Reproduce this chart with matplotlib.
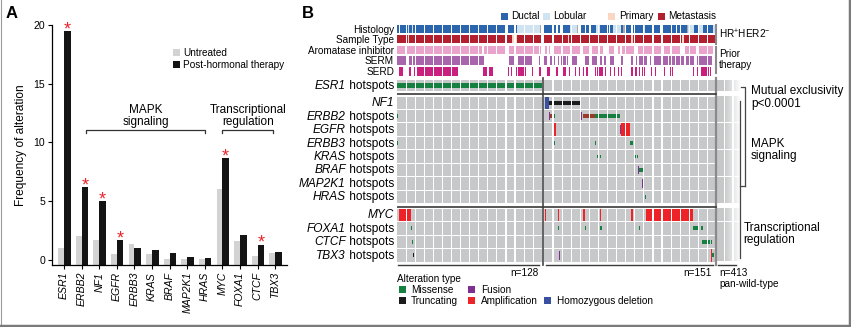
import matplotlib
matplotlib.use("Agg")
import matplotlib.pyplot as plt
from matplotlib.patches import Rectangle
import numpy as np

plt.rcParams['font.family'] = ['Liberation Sans', 'DejaVu Sans']
plt.rcParams['mathtext.fontset'] = 'custom'
plt.rcParams['mathtext.rm'] = 'Liberation Sans'
plt.rcParams['mathtext.it'] = 'Liberation Sans:italic'

# ---------------- Panel A data ----------------
genes = ["ESR1", "ERBB2", "NF1", "EGFR", "ERBB3", "KRAS", "BRAF", "MAP2K1",
         "HRAS", "MYC", "FOXA1", "CTCF", "TBX3"]
untreated = [1.0, 2.0, 1.7, 0.5, 1.4, 0.5, 0.1, 0.1, 0.1, 6.0, 1.6, 0.35, 0.6]
post_hormonal = [19.5, 6.2, 5.0, 1.7, 1.0, 0.85, 0.6, 0.25, 0.2, 8.7, 2.1, 1.3, 0.7]
significant = ["ESR1", "ERBB2", "NF1", "EGFR", "MYC", "CTCF"]
groups_A = [("MAPK\nsignaling", "ERBB2", "HRAS"),
            ("Transcriptional\nregulation", "MYC", "TBX3")]

# ---------------- Panel B data ----------------
n_esr1 = 128
n_other = 151
n_wildtype = 413

histology_runs = [
    (0, 2, 'D'), (3, 10, 'D'), (10, 11, 'L'), (11, 13, 'D'), (13, 14, 'L'),
    (14, 97, 'D'), (98, 106, 'D'), (106, 126, 'L'), (126, 127, 'U'),
    (128, 136, 'D'), (137, 139, 'D'), (140, 142, 'D'), (144, 151, 'D'),
    (151, 157, 'L'), (157, 158, 'U'), (160, 164, 'D'), (165, 168, 'D'),
    (169, 174, 'D'), (174, 177, 'L'), (177, 181, 'D'), (181, 185, 'D'),
    (186, 189, 'D'), (189, 196, 'L'), (196, 198, 'D'), (198, 199, 'U'),
    (199, 205, 'D'), (206, 216, 'D'), (216, 217, 'L'), (217, 230, 'D'),
    (231, 244, 'D'), (245, 254, 'D'), (254, 255, 'U'), (255, 260, 'L'),
    (260, 265, 'D'), (265, 268, 'L'), (268, 277, 'D'), (277, 279, 'L')]

primary_runs = [(10, 11), (101, 106), (149, 150), (205, 206), (250, 251)]

aromatase_runs = [
    (0, 7), (9, 75), (77, 97), (99, 125), (126, 127),
    (129, 131), (132, 133), (137, 143), (145, 151), (152, 160), (162, 168),
    (170, 176), (177, 180), (185, 190), (193, 195), (197, 199), (200, 207),
    (211, 224), (225, 233), (234, 239), (241, 249), (252, 262), (265, 277)]

serm_runs = [
    (0, 8), (11, 13), (14, 77), (99, 105), (107, 119), (125, 126),
    (128, 131), (133, 135), (136, 138), (140, 141), (143, 144), (145, 147),
    (148, 149), (152, 157), (164, 168), (170, 175), (177, 179), (181, 183),
    (186, 190), (196, 198), (205, 206), (207, 208), (209, 210), (212, 219),
    (221, 222), (225, 237), (238, 240), (241, 243), (244, 251), (253, 260),
    (263, 276)]

serd_runs = [
    (2, 5), (8, 9), (11, 12), (15, 17), (18, 54), (76, 80), (81, 85),
    (98, 99), (100, 101), (104, 106), (107, 114), (119, 120), (125, 127),
    (131, 133), (139, 140), (145, 147), (150, 151), (155, 156), (159, 160),
    (162, 163), (165, 167), (173, 174), (175, 180), (182, 183), (186, 187),
    (190, 191), (193, 194), (196, 197), (205, 206), (207, 210), (212, 213),
    (214, 217), (222, 223), (226, 227), (234, 235), (239, 242), (256, 257),
    (259, 260), (263, 264), (266, 273), (274, 275)]

esr1_alts = [(0, 128, 'mis')]
mapk_genes = ["NF1", "ERBB2", "EGFR", "ERBB3", "KRAS", "BRAF", "MAP2K1", "HRAS"]
tf_genes = ["MYC", "FOXA1", "CTCF", "TBX3"]
nf1_alts = [(129, 132, 'del'), (132, 160, 'trunc')]
erbb2_alts = [(0, 1, 'mis'), (132, 133, 'fus'), (133, 136, 'ampmis'), (136, 138, 'mis'),
              (161, 162, 'fus'), (162, 173, 'ampmis'), (173, 195, 'mis')]
egfr_alts = [(137, 139, 'amp'), (195, 196, 'fus'), (196, 204, 'amp')]
erbb3_alts = [(0, 1, 'mis'), (137, 138, 'mis'), (173, 174, 'mis'), (204, 206, 'mis')]
kras_alts = [(175, 176, 'mis'), (177, 178, 'mis'), (207, 209, 'mis'), (210, 211, 'mis')]
braf_alts = [(211, 212, 'fus'), (212, 215, 'mis')]
map2k1_alts = [(214, 215, 'fus'), (215, 216, 'mis')]
hras_alts = [(217, 218, 'mis')]
myc_alts = [(2, 12, 'amp'), (129, 130, 'amp'), (140, 141, 'amp'), (162, 164, 'amp'),
            (177, 178, 'amp'), (205, 206, 'amp'), (215, 216, 'amp'), (218, 259, 'amp')]
foxa1_alts = [(12, 13, 'mis'), (140, 141, 'mis'), (164, 165, 'mis'), (177, 179, 'mis'),
              (207, 208, 'mis'), (212, 213, 'mis'), (259, 265, 'mis'), (266, 268, 'mis')]
ctcf_alts = [(13, 14, 'mis'), (267, 274, 'mis'), (275, 276, 'mis')]
tbx3_alts = [(14, 15, 'trunc'), (141, 142, 'fus'), (275, 276, 'amp'), (276, 278, 'mis')]

gene_alts = {"NF1": nf1_alts, "ERBB2": erbb2_alts, "EGFR": egfr_alts, "ERBB3": erbb3_alts,
             "KRAS": kras_alts, "BRAF": braf_alts, "MAP2K1": map2k1_alts, "HRAS": hras_alts,
             "MYC": myc_alts, "FOXA1": foxa1_alts, "CTCF": ctcf_alts, "TBX3": tbx3_alts}
no_suffix = ["NF1", "MYC"]

# ---------------- styles ----------------
C_GRAY = '#c7c8c9'
hist_colors = {'D': '#2b65ae', 'L': '#cfe4f0', 'U': '#a8a8a8'}
C_MET, C_PRI = '#b2202f', '#fbd6c2'
C_AI, C_SERM, C_SERD = '#eaa4cb', '#a965ab', '#c91f7e'
alt_colors = {'mis': '#15803f', 'trunc': '#1b1b1b', 'fus': '#7e2f91',
              'amp': '#ee2328', 'del': '#3a50a0', 'ampmis': '#9a3b2a'}
bracket_offsets = {"ERBB2": 0.25, "HRAS": 0.0, "MYC": 0.0, "TBX3": -0.1}

W, H = 851, 327
fig = plt.figure(figsize=(W / 100, H / 100), dpi=100)
renderer = fig.canvas.get_renderer()


def fx(x):
    return x / W


def fy(y):
    return 1 - y / H


def ftext(x, y, s, **kw):
    kw.setdefault('fontsize', 7.2)
    kw.setdefault('va', 'center')
    fig.text(fx(x), fy(y), s, **kw)


def fsquare(x, y, color, size=7):
    fig.add_artist(Rectangle((fx(x), fy(y + size)), size / W, size / H,
                             transform=fig.transFigure, color=color, lw=0))


# ======================= Panel A =======================
axA = fig.add_axes([fx(52), fy(265), fx(287) - fx(52), fy(25) - fy(265)])
xA = np.arange(len(genes))
y0 = -0.43
axA.bar(xA, np.array(untreated) - y0, bottom=y0, width=-0.33, align='edge',
        color='#d3d3d3', lw=0)
axA.bar(xA, np.array(post_hormonal) - y0, bottom=y0, width=0.38, align='edge',
        color='#141414', lw=0)
axA.set_xlim(-0.68, 12.67)
axA.set_ylim(y0, 20)
axA.set_yticks([0, 5, 10, 15, 20])
axA.set_xticks(xA)
axA.set_xticklabels(genes, rotation=90, fontstyle='italic', fontsize=7.6)
axA.tick_params(axis='y', labelsize=7.6, length=3, width=0.8, pad=2)
axA.tick_params(axis='x', length=3, width=0.8, pad=2)
for s in ['top', 'right']:
    axA.spines[s].set_visible(False)
for s in ['left', 'bottom']:
    axA.spines[s].set_linewidth(0.9)
axA.set_ylabel('Frequency of alteration', fontsize=8.6)
axA.yaxis.set_label_coords(-0.106, 0.5)
for g in significant:
    i = genes.index(g)
    axA.text(i + 0.19, post_hormonal[i] - 0.28, '*', color='#e8262b', fontsize=13,
             ha='center', va='baseline')
for label, g0, g1 in groups_A:
    a = genes.index(g0) + bracket_offsets[g0]
    b = genes.index(g1) + bracket_offsets[g1]
    axA.plot([a, a, b, b], [10.78, 11.06, 11.06, 10.78], color='#333333', lw=0.9,
             clip_on=False)
    axA.text((a + b) / 2, 12.27, label, ha='center', va='center',
             fontsize=8.5, linespacing=1.0)

fig.text(fx(6), fy(13), 'A', fontsize=12, fontweight='bold', va='center')
fsquare(173, 49, '#d3d3d3')
fsquare(173, 61, '#141414')
ftext(183, 52.5, 'Untreated')
ftext(183, 64.5, 'Post-hormonal therapy')

# ======================= Panel B =======================
SPX = 1.135  # pixels per sample
XMAX = 302.5
axB = fig.add_axes([fx(397), 0, fx(397 + XMAX * SPX) - fx(397), 1])
axB.set_xlim(0, XMAX)
axB.set_ylim(H, 0)
axB.axis('off')


def pos(i):
    return i if i < n_esr1 else i + 1.5


def rect(s, e, yc, h, color, z=2):
    axB.add_patch(Rectangle((pos(s), yc - h / 2), e - s, h, color=color, lw=0, zorder=z))


# Row layout (pixel y centres)
track_y = {'Histology': 28.9, 'Sample Type': 39.2, 'Aromatase inhibitor': 50.1,
           'SERM': 60.7, 'SERD': 71.5}
TRACK_H = 8.6
esr1_y, esr1_h = 85.3, 10.7
mapk_y = [102.7 + 13.45 * k for k in range(len(mapk_genes))]
tf_y = [215.0 + 13.45 * k for k in range(len(tf_genes))]
GENE_H = 12.3
LABEL_X = -2.6

# top tracks
for s, e, c in histology_runs:
    rect(s, e, track_y['Histology'], TRACK_H, hist_colors[c])
total = n_esr1 + n_other
st = np.array(['M'] * total)
for s, e in primary_runs:
    st[s:e] = 'P'
for i in range(total):
    if i == n_esr1 - 1:
        continue
    rect(i, i + 1, track_y['Sample Type'], TRACK_H, C_MET if st[i] == 'M' else C_PRI)
for s, e in aromatase_runs:
    rect(s, e, track_y['Aromatase inhibitor'], TRACK_H, C_AI)
for s, e in serm_runs:
    rect(s, e, track_y['SERM'], TRACK_H, C_SERM)
for s, e in serd_runs:
    rect(s, e, track_y['SERD'], TRACK_H, C_SERD)

# gene rows
all_rows = [("ESR1", esr1_y, esr1_h, esr1_alts)]
all_rows += [(g, yy, GENE_H, gene_alts[g]) for g, yy in zip(mapk_genes, mapk_y)]
all_rows += [(g, yy, GENE_H, gene_alts[g]) for g, yy in zip(tf_genes, tf_y)]

grad = np.ones((1, 200, 4))
grad[..., :3] = np.array(matplotlib.colors.to_rgb(C_GRAY))
alpha = np.clip(1 - (np.linspace(0, 1, 200) - 0.3) / 0.7, 0, 1)
alpha[:60] = 1
grad[0, :, 3] = alpha

for g, yc, h, alts in all_rows:
    axB.add_patch(Rectangle((0, yc - h / 2), n_esr1, h, color=C_GRAY, lw=0, zorder=1))
    axB.add_patch(Rectangle((n_esr1 + 1.5, yc - h / 2), n_other, h, color=C_GRAY, lw=0, zorder=1))
    axB.imshow(grad, extent=(282, 302.5, yc + h / 2, yc - h / 2), aspect='auto',
               interpolation='bilinear', zorder=1)
    for s, e, t in alts:
        if t in ('amp', 'del'):
            hh = h
        elif t == 'fus':
            hh = h * 0.68
        else:
            hh = h * (0.46 if g == "ESR1" else 0.32)
        if t == 'fus':
            axB.add_patch(Rectangle((pos(s), yc - hh / 2), 0.9, hh,
                                    color=alt_colors[t], lw=0, zorder=3))
        else:
            rect(s, e, yc, hh, alt_colors[t])
    # row label: italic gene name + regular suffix
    xg = LABEL_X
    if g not in no_suffix:
        t2 = axB.text(LABEL_X, yc + 0.5, " hotspots", ha='right', va='center',
                      fontsize=8.6, clip_on=False)
        bb = t2.get_window_extent(renderer)
        xg = axB.transData.inverted().transform((bb.x0, 0))[0]
    axB.text(xg, yc + 0.5, g, ha='right', va='center', fontsize=8.6,
             fontstyle='italic', clip_on=False)

axB.set_xlim(0, XMAX)
axB.set_ylim(H, 0)

# white block separators every 8 samples
block_edges = [8 * k for k in range(1, 16)] + [n_esr1 + 1.5 + 8 * k for k in range(1, 19)]
for b in block_edges:
    axB.add_patch(Rectangle((b - 0.5, 23), 1.0, 242, color='white', lw=0, zorder=4))
for b in [288.5, 296.0]:
    axB.add_patch(Rectangle((b - 0.5, 79), 1.0, 186, color='white', lw=0, zorder=4))

# track labels
for name, yc in track_y.items():
    axB.text(LABEL_X, yc + 0.8, name, ha='right', va='center', fontsize=7.2, clip_on=False)

# separator lines
LC = '#3a3a3a'
axB.plot([128.75, 128.75], [78.3, 265], color='#555555', lw=1.3, zorder=6)
axB.plot([280.9, 280.9], [78.3, 265], color='#8a8a8a', lw=1.6, zorder=6)
axB.plot([-0.3, 280.9], [94.3, 94.3], color=LC, lw=1.2, zorder=6)
axB.plot([-0.3, 280.9], [206.6, 206.6], color=LC, lw=1.2, zorder=6)
axB.plot([0.5, 125.5], [265.3, 265.3], color=LC, lw=1.0, zorder=6, clip_on=False)
axB.plot([131, 278], [265.3, 265.3], color=LC, lw=1.0, zorder=6, clip_on=False)
axB.plot([283, 299], [265.3, 265.3], color=LC, lw=1.0, zorder=6, clip_on=False)

# right annotations
fig.add_artist(plt.Line2D([fx(715.5)] * 2, [fy(25), fy(43.5)], color='#8a8a8a', lw=1.5))
fig.add_artist(plt.Line2D([fx(715.5)] * 2, [fy(47), fy(73)], color='#8a8a8a', lw=1.5))
ftext(719, 34.5, r'HR$^{+}$HER2$^{-}$', fontsize=7.2)
ftext(719, 54, 'Prior', fontsize=7.2)
ftext(719, 65.5, 'therapy', fontsize=7.2)

BC = '#444444'
fig.add_artist(plt.Line2D([fx(741), fx(745), fx(745)], [fy(86.5), fy(86.5), fy(186)], color=BC, lw=0.9))
fig.add_artist(plt.Line2D([fx(740), fx(740)], [fy(101.5), fy(258)], color=BC, lw=0.9))
fig.add_artist(plt.Line2D([fx(740), fx(745)], [fy(185.5), fy(185.5)], color=BC, lw=0.9))
ftext(751, 91, 'Mutual exclusivity', fontsize=8.5)
ftext(751, 103.5, 'p<0.0001', fontsize=8.5)
ftext(751, 143.5, 'MAPK', fontsize=8.5)
ftext(751, 156, 'signaling', fontsize=8.5)
ftext(743.5, 228.5, 'Transcriptional', fontsize=8.5)
ftext(743.5, 240.5, 'regulation', fontsize=8.5)

ftext(539, 272.5, 'n=%d' % n_esr1, ha='right')
ftext(712, 272.5, 'n=%d' % n_other, ha='right')
ftext(719, 272.5, 'n=%d' % n_wildtype)
ftext(719, 284, 'pan-wild-type')

# legends for panel B
fig.text(fx(302), fy(13), 'B', fontsize=12, fontweight='bold', va='center')
fsquare(501, 12.7, hist_colors['D'])
ftext(511, 16.3, 'Ductal')
fsquare(543, 12.7, hist_colors['L'])
ftext(553, 16.3, 'Lobular')
fsquare(608, 12.7, C_PRI)
ftext(619, 16.3, 'Primary')
fsquare(658, 12.7, C_MET)
ftext(668, 16.3, 'Metastasis')

ftext(397, 279, 'Alteration type')
fsquare(399, 286, alt_colors['mis'])
ftext(411, 290, 'Missense')
fsquare(399, 297, alt_colors['trunc'])
ftext(411, 301, 'Truncating')
fsquare(468, 286, alt_colors['fus'])
ftext(481, 290, 'Fusion')
fsquare(468, 297, alt_colors['amp'])
ftext(481, 301, 'Amplification')
fsquare(544, 297, alt_colors['del'])
ftext(557, 301, 'Homozygous deletion')

# frame
fig.add_artist(plt.Line2D([fx(0.5), fx(0.5)], [0, 1], color='#9a9a9a', lw=0.8))
fig.add_artist(plt.Line2D([0, 1], [fy(325.5), fy(325.5)], color='#7a7a7a', lw=2.5))
fig.add_artist(plt.Line2D([fx(849.8), fx(849.8)], [0, 1], color='#7a7a7a', lw=2.5))

fig.savefig('out.png', dpi=100)
